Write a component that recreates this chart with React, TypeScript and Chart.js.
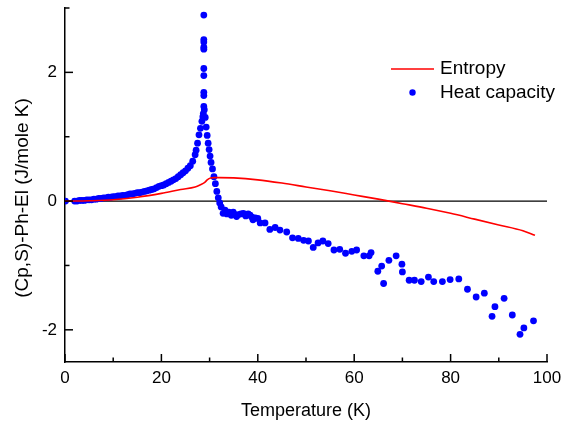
import React, { useEffect, useRef } from "react";
import { Chart, registerables } from "chart.js";

Chart.register(...registerables);

const heatTemperature = [
  0.1, 2.0, 2.5, 3.0, 3.5, 4.0, 4.5, 5.0, 5.5, 6.0, 6.5, 7.0, 7.5, 8.0, 8.5, 9.0, 9.5,
  10.0, 10.5, 11.0, 11.5, 12.0, 12.5, 13.0, 13.5, 14.0, 14.5, 15.0, 15.5, 16.0, 16.5,
  17.0, 17.5, 18.0, 18.5, 19.0, 19.5, 20.0, 20.5, 21.0, 21.5, 22.0, 22.5, 23.0, 23.5,
  24.0, 24.5, 25.0, 25.5, 26.0, 26.5, 27.0, 27.2, 27.5, 27.8, 28.1, 28.4, 28.6, 28.7,
  28.8, 28.8, 28.8, 28.8, 28.8, 28.8, 28.8, 28.8, 28.8, 28.8,
  28.9, 29.1, 29.3, 29.5, 29.7, 29.9, 30.1, 30.3, 30.6, 30.9, 31.2, 31.5, 31.8, 32.1, 32.4,
  32.8, 33.2, 33.6, 34.0, 34.5, 34.9, 35.3, 35.6, 36.0, 36.5, 37.0, 37.5, 38.0, 38.4,
  38.8, 39.0, 39.5, 40.0, 40.5, 41.5, 42.5, 43.6, 44.6, 46.0, 47.2, 48.4, 49.5, 50.5,
  51.5, 52.5, 53.5, 54.6, 55.8, 57.0, 58.2, 59.5, 60.5, 62.0, 63.1, 63.5, 64.9, 65.7,
  66.1, 67.2, 68.7, 69.9, 70.0, 71.4, 72.5, 73.9, 75.4, 76.5, 78.3, 79.9, 81.7, 83.5,
  85.3, 87.0, 88.6, 89.2, 91.1, 92.8, 94.4, 95.2, 97.2,
];

const heatCapacity = [
  0.0, 0.0, 0.0, 0.01, 0.01, 0.01, 0.02, 0.02, 0.02, 0.03, 0.03, 0.04, 0.04, 0.05, 0.05, 0.06, 0.06,
  0.07, 0.07, 0.08, 0.08, 0.09, 0.09, 0.1, 0.11, 0.11, 0.12, 0.13, 0.13, 0.14, 0.15,
  0.16, 0.17, 0.18, 0.19, 0.21, 0.23, 0.24, 0.25, 0.27, 0.29, 0.31, 0.33, 0.35, 0.38,
  0.41, 0.44, 0.47, 0.51, 0.55, 0.62, 0.72, 0.79, 0.9, 1.03, 1.13, 1.24, 1.31, 1.36,
  1.47, 1.64, 1.69, 1.95, 2.06, 2.36, 2.39, 2.47, 2.51, 2.89,
  1.42, 1.3, 1.15, 1.02, 0.9, 0.8, 0.7, 0.6, 0.5, 0.38, 0.27, 0.15, 0.05, -0.03, -0.09,
  -0.19, -0.14, -0.2, -0.17, -0.22, -0.17, -0.21, -0.24, -0.21, -0.2, -0.19, -0.23, -0.2, -0.22,
  -0.25, -0.29, -0.26, -0.27, -0.34, -0.34, -0.44, -0.41, -0.45, -0.48, -0.57, -0.58, -0.61, -0.62,
  -0.72, -0.65, -0.62, -0.66, -0.76, -0.75, -0.81, -0.78, -0.76, -0.85, -0.85, -0.8, -1.09, -1.01,
  -1.28, -0.92, -0.85, -0.98, -1.1, -1.23, -1.23, -1.25, -1.18, -1.25, -1.25, -1.22, -1.21, -1.37,
  -1.49, -1.43, -1.79, -1.64, -1.51, -1.77, -2.07, -1.97, -1.86,
];

const entropyTemperature = [
  0, 5, 10, 15, 20, 24, 27, 28, 29, 29.5, 30.2, 31, 32, 35, 40, 45, 50, 55, 60, 65, 70, 75, 80, 85, 90, 95, 97.5,
];
const entropyValue = [
  0, 0.005, 0.02, 0.06, 0.12, 0.18, 0.22, 0.25, 0.29, 0.33, 0.36, 0.365, 0.365, 0.36, 0.33, 0.28, 0.22,
  0.16, 0.095, 0.03, -0.04, -0.11, -0.19, -0.28, -0.37, -0.46, -0.53,
];

const xTicks = [0, 10, 20, 30, 40, 50, 60, 70, 80, 90, 100];
const xTickLabels = ["0", "", "20", "", "40", "", "60", "", "80", "", "100"];
const yTicks = [-2, -1, 0, 1, 2, 3];
const yTickLabels = ["-2", "", "0", "", "2", ""];

const legendLabels = ["Entropy", "Heat capacity"];
const yTitle = "(Cp,S)-Ph-El (J/mole K)";
const xTitle = "Temperature (K)";

const FONT = "'Liberation Sans', Arial, sans-serif";

const zeroPadding = (s: any) => {
  s.paddingTop = 0;
  s.paddingBottom = 0;
  s.paddingLeft = 0;
  s.paddingRight = 0;
};

export default function App() {
  const ref = useRef<HTMLCanvasElement | null>(null);

  useEffect(() => {
    if (!ref.current) return;

    const tickPlugin = {
      id: "customTicks",
      beforeDatasetsDraw(chart: any) {
        const { ctx, chartArea, scales } = chart;
        ctx.save();
        ctx.strokeStyle = "#000";
        ctx.lineWidth = 1.3;
        const y0 = scales.y.getPixelForValue(0);
        ctx.beginPath();
        ctx.moveTo(chartArea.left, y0);
        ctx.lineTo(chartArea.right, y0);
        ctx.stroke();
        ctx.restore();
      },
      afterDraw(chart: any) {
        const { ctx, chartArea, scales } = chart;
        ctx.save();
        ctx.strokeStyle = "#000";
        ctx.lineWidth = 1.5;
        xTicks.forEach((v, i) => {
          const x = scales.x.getPixelForValue(v);
          const len = xTickLabels[i] ? 8 : 4.5;
          ctx.beginPath();
          ctx.moveTo(x, chartArea.bottom);
          ctx.lineTo(x, chartArea.bottom - len);
          ctx.stroke();
        });
        yTicks.forEach((v, i) => {
          const y = scales.y.getPixelForValue(v);
          const len = yTickLabels[i] ? 8 : 4.5;
          ctx.beginPath();
          ctx.moveTo(chartArea.left, y);
          ctx.lineTo(chartArea.left + len, y);
          ctx.stroke();
        });

        // y axis title
        ctx.save();
        ctx.fillStyle = "#000";
        ctx.font = `19px ${FONT}`;
        ctx.textAlign = "center";
        ctx.textBaseline = "middle";
        ctx.translate(22.5, (chartArea.top + chartArea.bottom) / 2 + 13);
        ctx.rotate(-Math.PI / 2);
        ctx.fillText(yTitle, 0, 0);
        ctx.restore();

        // legend
        const lx = chartArea.right - 156;
        const ly = chartArea.top + 61;
        ctx.strokeStyle = "#ff0000";
        ctx.lineWidth = 1.5;
        ctx.beginPath();
        ctx.moveTo(lx, ly);
        ctx.lineTo(lx + 43, ly);
        ctx.stroke();
        ctx.fillStyle = "#0000ff";
        ctx.beginPath();
        ctx.arc(lx + 21.5, ly + 23.5, 3.2, 0, Math.PI * 2);
        ctx.fill();
        ctx.fillStyle = "#000";
        ctx.font = `19px ${FONT}`;
        ctx.textBaseline = "middle";
        ctx.textAlign = "left";
        ctx.fillText(legendLabels[0], lx + 49, ly);
        ctx.fillText(legendLabels[1], lx + 49, ly + 24);
        ctx.restore();
      },
    };

    const chart = new Chart(ref.current, {
      type: "scatter",
      data: {
        datasets: [
          {
            type: "line",
            label: legendLabels[0],
            data: entropyTemperature.map((t, i) => ({ x: t, y: entropyValue[i] })),
            borderColor: "#ff0000",
            borderWidth: 1.6,
            pointRadius: 0,
            fill: false,
            cubicInterpolationMode: "monotone",
          } as any,
          {
            type: "scatter",
            label: legendLabels[1],
            data: heatTemperature.map((t, i) => ({ x: t, y: heatCapacity[i] })),
            backgroundColor: "#0000ff",
            borderWidth: 0,
            pointRadius: 3.4,
            pointHoverRadius: 3.4,
          },
        ],
      },
      options: {
        responsive: false,
        animation: false,
        events: [],
        layout: { padding: { top: 8, right: 16, left: 0, bottom: 0 } },
        plugins: {
          legend: { display: false },
          tooltip: { enabled: false },
        },
        scales: {
          x: {
            type: "linear",
            min: 0,
            max: 100,
            afterFit: (s: any) => {
              s.height = 62;
              zeroPadding(s);
            },
            afterBuildTicks: (s: any) => {
              s.ticks = xTicks.map((v) => ({ value: v }));
            },
            ticks: {
              autoSkip: false,
              maxRotation: 0,
              padding: 6,
              color: "#000",
              font: { family: FONT, size: 17 },
              callback: (_v: any, i: number) => xTickLabels[i],
            },
            grid: { display: false, drawTicks: false },
            border: { display: true, color: "#000", width: 1.5 },
            title: {
              display: true,
              text: xTitle,
              color: "#000",
              font: { family: FONT, size: 18 },
              padding: { top: 0, bottom: 2 },
            },
          },
          y: {
            type: "linear",
            min: -2.5,
            max: 3,
            afterFit: (s: any) => {
              s.width = 65;
              zeroPadding(s);
            },
            afterBuildTicks: (s: any) => {
              s.ticks = yTicks.map((v) => ({ value: v }));
            },
            ticks: {
              autoSkip: false,
              padding: 8,
              color: "#000",
              font: { family: FONT, size: 17 },
              callback: (_v: any, i: number) => yTickLabels[i],
            },
            grid: { display: false, drawTicks: false },
            border: { display: true, color: "#000", width: 1.5 },
          },
        },
      },
      plugins: [tickPlugin],
    });

    return () => chart.destroy();
  }, []);

  return (
    <div style={{ position: "fixed", left: 0, top: 0, width: 563, height: 424, background: "#fff" }}>
      <canvas ref={ref} width={563} height={424} style={{ width: 563, height: 424, display: "block" }} />
    </div>
  );
}
